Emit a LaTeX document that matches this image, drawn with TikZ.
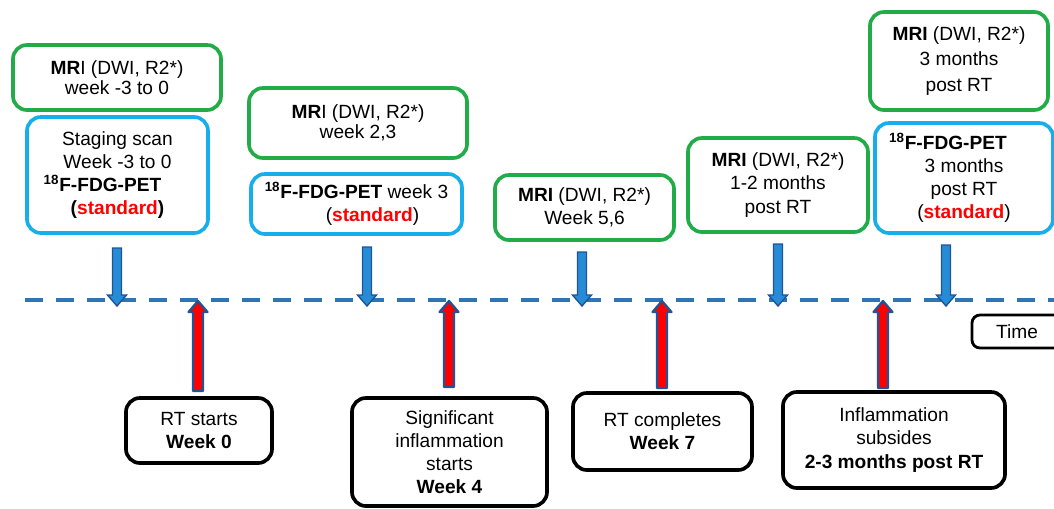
\documentclass[tikz,border=0pt]{standalone}
\usepackage{fontspec}
\setmainfont{Liberation Sans}
\usepackage{xcolor}
\usepackage{tikz}
\usetikzlibrary{arrows.meta}
\definecolor{mrigreen}{RGB}{34,172,72}
\definecolor{petblue}{RGB}{24,174,236}
\definecolor{lineblue}{RGB}{46,117,182}
\definecolor{arrfill}{RGB}{38,140,214}
\definecolor{arredge}{RGB}{32,84,150}
\tikzset{
 box/.style={draw,rounded corners=0.35cm,line width=2.6pt,align=center,inner sep=2pt,
  font=\fontsize{13.6}{16.4}\selectfont},
 mri/.style={box,draw=mrigreen},
 pet/.style={box,draw=petblue},
 event/.style={box,draw=black},
 downarr/.style={fill=arrfill,draw=arredge,line width=1pt},
 uparr/.style={fill=red,draw=arredge,line width=1.6pt,line join=round}
}
\newcommand{\fdgpet}{\textbf{\textsuperscript{18}F-FDG-PET}}
\newcommand{\stdtxt}{\textcolor{red}{\textbf{standard}}}

\begin{document}
\begin{tikzpicture}[x=0.025cm,y=-0.025cm]
\useasboundingbox(0,0)rectangle(1054,508);
\clip(0,0)rectangle(1054,508);
% time line
\draw[lineblue,line width=2.8pt,dash pattern=on 0.45cm off 0.325cm](25,300)--(1054,300);
% imaging
\node[mri,minimum width=5.2cm,minimum height=1.625cm](g1)at(117,77.5)
 {\textbf{MR}I (DWI, R2*)\\[-2pt]week -3 to 0};
\node[pet,minimum width=4.525cm,minimum height=2.9cm](b1)at(117.5,175)
 {Staging scan\\Week -3 to 0\\\fdgpet\hspace{0.75cm}\mbox{}\\\textbf{(}\stdtxt\textbf{)}};
\node[mri,minimum width=5.45cm,minimum height=1.75cm](g2)at(358,123)
 {\textbf{MR}I (DWI, R2*)\\[-2pt]week 2,3};
\node[pet,minimum width=5.275cm,minimum height=1.5cm](b2)at(356.5,204)
 {\fdgpet{} week 3\\\hspace{0.8cm}(\stdtxt)};
\node[mri,minimum width=4.475cm,minimum height=1.625cm](g3)at(584.5,207.5)
 {\textbf{MRI} (DWI, R2*)\\Week 5,6};
\node[mri,minimum width=4.5cm,minimum height=2.35cm](g4)at(778,185)
 {\textbf{MRI} (DWI, R2*)\\1-2 months\\post RT};
\node[mri,minimum width=4.45cm,minimum height=2.45cm](g5)at(959,61)
 {\textbf{MRI} (DWI, R2*)\\[1.5pt]3 months\\[1.5pt]post RT};
\node[pet,minimum width=4.45cm,minimum height=2.75cm](b5)at(964,178)
 {\fdgpet\hspace{0.8cm}\mbox{}\\3 months\\post RT\\(\stdtxt)};
% events
\node[event,minimum width=3.65cm,minimum height=1.625cm](k1)at(199,430.5)
 {RT starts\\\textbf{Week 0}};
\node[event,minimum width=4.875cm,minimum height=2.7cm](k2)at(449.5,452)
 {Significant\\inflammation\\starts\\\textbf{Week 4}};
\node[event,minimum width=4.475cm,minimum height=1.925cm](k3)at(662.5,431.5)
 {RT completes\\\textbf{Week 7}};
\node[event,minimum width=5.55cm,minimum height=2.4cm](k4)at(894,440)
 {Inflammation\\subsides\\\textbf{2-3 months post RT}};
\node[event,line width=2pt,rounded corners=0.2cm,minimum width=2.25cm,minimum height=0.825cm](time)at(1017,331.5){Time};
% arrows
\foreach \x/\t in {117/248,367/247,582/252,778/244,946/245}
 \draw[downarr](\x-4.5,\t)--(\x+4.5,\t)--(\x+4.5,295)--(\x+9.5,295)--(\x,306)--(\x-9.5,295)--(\x-4.5,295)--cycle;
\foreach \x/\b in {198/391,449/387,662/388,883/388}
 \draw[uparr](\x-5,\b)--(\x+5,\b)--(\x+5,312)--(\x+9.5,312)--(\x,301)--(\x-9.5,312)--(\x-5,312)--cycle;
\end{tikzpicture}
\end{document}
